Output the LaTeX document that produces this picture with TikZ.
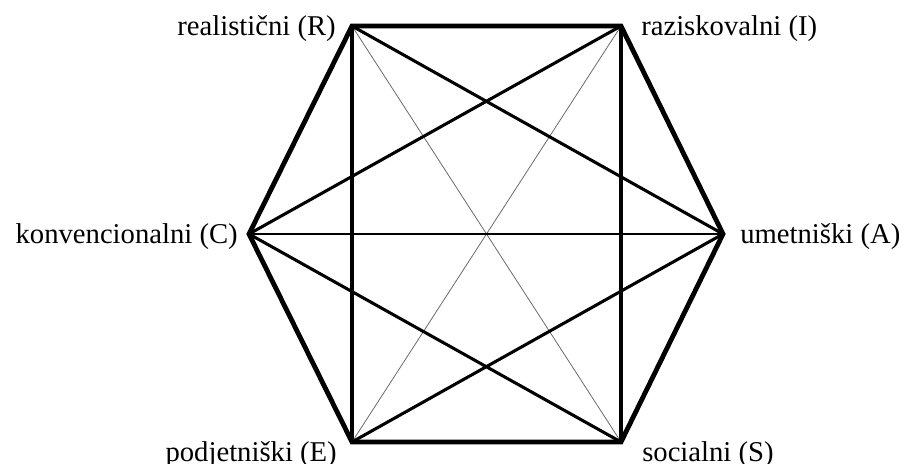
\documentclass[tikz,border=0pt]{standalone}
\usepackage{fontspec}
\setmainfont{Liberation Serif}
\usepackage{tikz}
\definecolor{INK}{HTML}{000000}
\definecolor{GREYL}{HTML}{6A6A6A}

\begin{document}
\begin{tikzpicture}[x=0.75pt,y=-0.75pt]
\tikzset{hexl/.style={line width=3.6pt,INK,line join=miter},
 sidel/.style={line width=2.7pt,INK},
 diagl/.style={line width=2.3pt,INK},
 midl/.style={line width=0.9pt,INK},
 thinl/.style={line width=0.6pt,GREYL},
 lab/.style={font=\fontsize{21.5}{24}\selectfont,inner sep=0pt,INK}}
\useasboundingbox (0,0) rectangle (907,464);
% corners of the hexagon
\coordinate (R) at (352,26);
\coordinate (I) at (621,26);
\coordinate (A) at (723,234);
\coordinate (S) at (621,442);
\coordinate (E) at (352,442);
\coordinate (C) at (249,234);
% inner lines
\draw[thinl] (R)--(S);
\draw[thinl] (I)--(E);
\draw[midl] (C)--(A);
\draw[diagl] (R)--(A) (I)--(C) (C)--(S) (A)--(E);
\draw[sidel] (R)--(E) (I)--(S);
\draw[hexl] (R)--(I)--(A)--(S)--(E)--(C)--cycle;
% labels
\node[lab,anchor=base east] (labR) at (336,35) {realistični (R)};
\node[lab,anchor=base west] (labI) at (641,35) {raziskovalni (I)};
\node[lab,anchor=base west] (labA) at (740,243) {umetniški (A)};
\node[lab,anchor=base west] (labS) at (642,461) {socialni (S)};
\node[lab,anchor=base east] (labE) at (337,461) {podjetniški (E)};
\node[lab,anchor=base east] (labC) at (238,243) {konvencionalni (C)};
\end{tikzpicture}
\end{document}
